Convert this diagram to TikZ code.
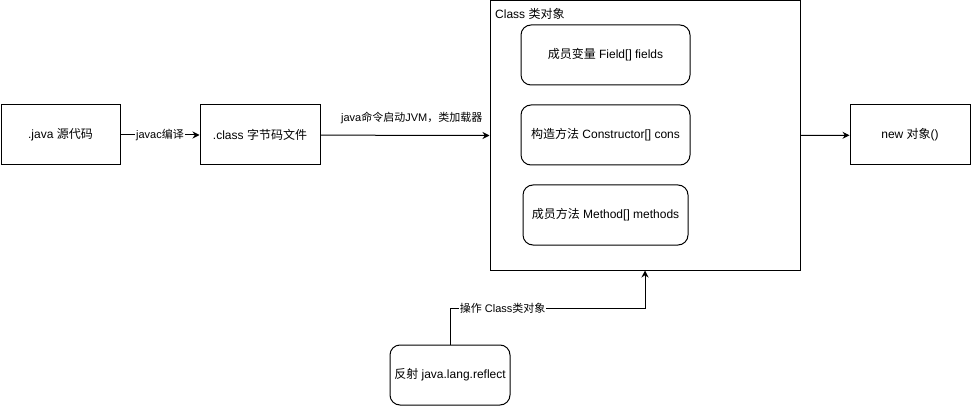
\documentclass[tikz,border=0pt]{standalone}
\usepackage{fontspec}
\setmainfont{Liberation Sans}
\newfontfamily\cjk{Noto Sans CJK SC}
\usetikzlibrary{arrows.meta}
\begin{document}
\begin{tikzpicture}[x=1pt,y=-1pt,
  box/.style={draw,line width=1pt,fill=white,inner sep=0pt,font=\fontsize{12}{14}\selectfont},
  rbox/.style={box,rounded corners=10pt},
  arr/.style={line width=1pt,-{Stealth[length=7pt,width=7pt]}},
  lbl/.style={fill=white,inner sep=1pt,font=\fontsize{11}{13}\selectfont}]
\useasboundingbox (0,0) rectangle (971,406);
\node[box,minimum width=119pt,minimum height=60pt] (src) at (60.5,135) {.java {\cjk 源代码}};
\node[box,minimum width=120pt,minimum height=60pt] (cf) at (260,135) {.class {\cjk 字节码文件}};
\node[box,minimum width=310pt,minimum height=269pt] (cls) at (645,135.5) {};
\node[anchor=north west,inner sep=0pt,font=\fontsize{12}{14}\selectfont] (title) at (495,8) {Class {\cjk 类对象}};
\node[rbox,minimum width=169pt,minimum height=60pt] (fld) at (605.5,55) {{\cjk 成员变量} Field[] fields};
\node[rbox,minimum width=169pt,minimum height=60pt] (con) at (605.5,135) {{\cjk 构造方法} Constructor[] cons};
\node[rbox,minimum width=165pt,minimum height=60pt] (met) at (605.5,215) {{\cjk 成员方法} Method[] methods};
\node[box,minimum width=120pt,minimum height=60pt] (new) at (910,135) {new {\cjk 对象}()};
\node[rbox,minimum width=120pt,minimum height=60pt] (refl) at (450,375) {{\cjk 反射} java.lang.reflect};
\draw[arr] (src) -- node[lbl]{javac{\cjk 编译}} (cf);
\draw[arr] (cf) -- node[pos=0.54,above=11pt,inner sep=0pt,font=\fontsize{11}{13}\selectfont]{java{\cjk 命令启动}JVM{\cjk ，类加载器}} (cls.west);
\draw[arr] (cls.east) -- (new);
\coordinate (bend) at (450,308);
\draw[arr] (refl.north) -- (bend) -- node[lbl,pos=0.27]{{\cjk 操作} Class{\cjk 类对象}} (cls.south |- bend) -- (cls.south);
\end{tikzpicture}
\end{document}
